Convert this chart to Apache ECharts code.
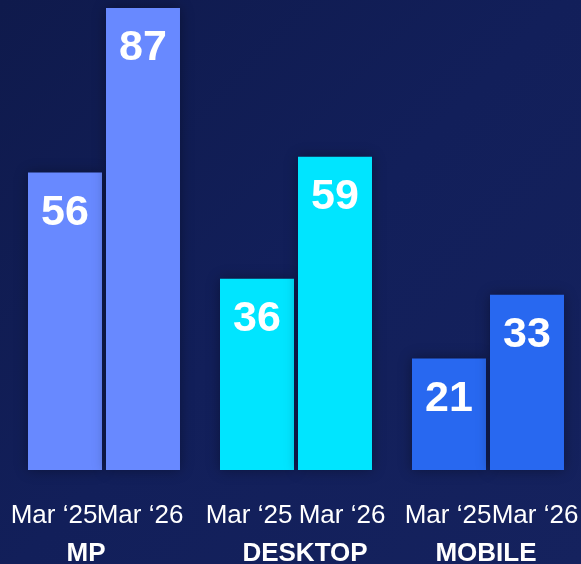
<!DOCTYPE html>
<html>
<head>
<meta charset="utf-8">
<script src="https://cdn.jsdelivr.net/npm/echarts@6/dist/echarts.min.js"></script>
<style>
  html, body { margin: 0; padding: 0; background: #121e58; }
  #chart { width: 581px; height: 564px; }
</style>
</head>
<body>
<div id="chart"></div>
<script>
// chart data
var groups = ['MP', 'DESKTOP', 'MOBILE'];
var periods = ['Mar \u201825', 'Mar \u201826'];
var mar25 = [56, 36, 21];
var mar26 = [87, 59, 33];
var groupColors = ['#6889ff', '#00e5ff', '#2868f0'];

// small horizontal nudges of the axis texts (px), as in the original slide
var groupShift = [-18, 9, -2];
var periodShift = [-2, -12, 1, -2, 8, -1];

var font = 'Liberation Sans, Arial, sans-serif';

function shifted(text, dx) {
    var pad = dx < 0 ? [0, -2 * dx, 0, 0] : [0, 0, 0, 2 * dx];
    return { value: text, textStyle: { padding: pad } };
}

var groupData = groups.map(function (g, i) {
    return shifted(g, groupShift[i]);
});
var periodData = [];
groups.forEach(function () {
    periodData.push(periods[0], periods[1]);
});
periodData = periodData.map(function (p, i) {
    return shifted(p, periodShift[i]);
});

function buildData(values) {
    return values.map(function (v, i) {
        return { value: v, itemStyle: { color: groupColors[i] } };
    });
}

var barLabel = {
    show: true,
    position: 'insideTop',
    distance: 19,
    color: '#ffffff',
    fontFamily: font,
    fontWeight: 'bold',
    fontSize: 43
};

var chart = echarts.init(document.getElementById('chart'));
var option = {
    backgroundColor: new echarts.graphic.LinearGradient(0, 0, 1, 1, [
        { offset: 0, color: '#0f1a4c' },
        { offset: 0.5, color: '#121f5a' },
        { offset: 1, color: '#15225e' }
    ]),
    grid: { left: 8, right: -3, top: 8, bottom: 94, outerBoundsMode: 'none', containLabel: false },
    xAxis: [
        {
            type: 'category',
            data: groupData,
            axisLine: { show: false },
            axisTick: { show: false },
            axisLabel: {
                color: '#ffffff',
                fontFamily: font,
                fontWeight: 'bold',
                fontSize: 26,
                margin: 71,
                interval: 0,
                hideOverlap: false
            }
        },
        {
            type: 'category',
            data: periodData,
            position: 'bottom',
            axisLine: { show: false },
            axisTick: { show: false },
            axisLabel: {
                color: '#ffffff',
                fontFamily: font,
                fontSize: 26,
                margin: 33,
                interval: 0,
                hideOverlap: false
            }
        }
    ],
    yAxis: {
        type: 'value',
        min: 0,
        max: 87,
        show: false,
        splitLine: { show: false }
    },
    series: [
        {
            name: periods[0],
            type: 'bar',
            xAxisIndex: 0,
            barWidth: 74,
            barGap: '5.4%',
            data: buildData(mar25),
            label: barLabel,
            itemStyle: { shadowBlur: 12, shadowColor: 'rgba(0,0,0,0.35)' }
        },
        {
            name: periods[1],
            type: 'bar',
            xAxisIndex: 0,
            barWidth: 74,
            barGap: '5.4%',
            data: buildData(mar26),
            label: barLabel,
            itemStyle: { shadowBlur: 12, shadowColor: 'rgba(0,0,0,0.35)' }
        }
    ]
};
chart.setOption(option);
</script>
</body>
</html>
